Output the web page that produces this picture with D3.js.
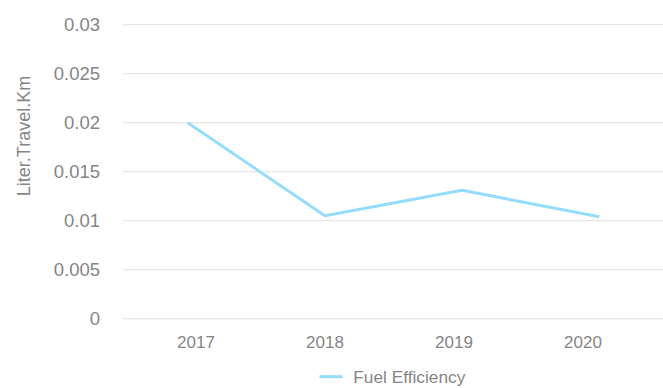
<!DOCTYPE html>
<html>
<head>
<meta charset="utf-8">
<script src="https://cdn.jsdelivr.net/npm/d3@7"></script>
<style>
  html, body { margin: 0; padding: 0; background: #fff; }
  svg { display: block; font-family: "Liberation Sans", Arial, Helvetica, sans-serif; }
</style>
</head>
<body>
<svg id="chart" width="663" height="388"></svg>
<script>
// Fuel efficiency by year
const years = ["2017", "2018", "2019", "2020"];
const fuelEfficiency = [0.02, 0.0105, 0.0131, 0.0104];
const yTicks = [0, 0.005, 0.01, 0.015, 0.02, 0.025, 0.03];
const yTickLabels = ["0", "0.005", "0.01", "0.015", "0.02", "0.025", "0.03"];
const seriesName = "Fuel Efficiency";
const axisTitle = "Liter.Travel.Km";

const svg = d3.select("#chart");
const textColor = "#858585";
const gridColor = "#e6e6e6";
const lineColor = "#95dcfb";

const plotLeft = 123, plotRight = 663;
const y = d3.scaleLinear().domain([0, 0.03]).range([318.7, 24.7]);
const xLine = d3.scalePoint().domain(years).range([187.7, 599.3]);
const xLabel = d3.scalePoint().domain(years).range([196, 583]);

// horizontal grid lines
svg.append("g")
  .selectAll("line")
  .data(yTicks)
  .join("line")
  .attr("x1", plotLeft)
  .attr("x2", plotRight)
  .attr("y1", d => y(d))
  .attr("y2", d => y(d))
  .attr("stroke", gridColor)
  .attr("stroke-width", 1.2);

// y tick labels
svg.append("g")
  .selectAll("text")
  .data(yTicks)
  .join("text")
  .attr("x", 100)
  .attr("y", d => y(d))
  .attr("dy", "0.36em")
  .attr("text-anchor", "end")
  .attr("font-size", 18.5)
  .attr("fill", textColor)
  .text((d, i) => yTickLabels[i]);

// x tick labels
svg.append("g")
  .selectAll("text")
  .data(years)
  .join("text")
  .attr("x", d => xLabel(d))
  .attr("y", 348)
  .attr("text-anchor", "middle")
  .attr("font-size", 17)
  .attr("fill", textColor)
  .text(d => d);

// y axis title
svg.append("text")
  .attr("transform", "translate(29.5,136) rotate(-90)")
  .attr("text-anchor", "middle")
  .attr("font-size", 18)
  .attr("fill", textColor)
  .text(axisTitle);

// series line
const line = d3.line()
  .x((d, i) => xLine(years[i]))
  .y(d => y(d));

svg.append("path")
  .datum(fuelEfficiency)
  .attr("d", line)
  .attr("fill", "none")
  .attr("stroke", lineColor)
  .attr("stroke-width", 3)
  .attr("stroke-linejoin", "round");

// legend
const legend = svg.append("g");
legend.append("line")
  .attr("x1", 319.5).attr("x2", 342.5)
  .attr("y1", 376.7).attr("y2", 376.7)
  .attr("stroke", lineColor)
  .attr("stroke-width", 3);
legend.append("text")
  .attr("x", 353.3)
  .attr("y", 383)
  .attr("font-size", 17.3)
  .attr("fill", textColor)
  .text(seriesName);
</script>
</body>
</html>
